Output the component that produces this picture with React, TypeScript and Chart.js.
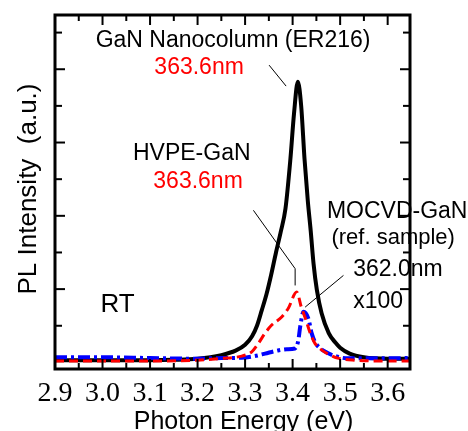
import { useEffect, useRef } from "react";
import { Chart, registerables } from "chart.js";

Chart.register(...registerables);

// ---- data ----
const nanoE = [2.90, 3.00, 3.10, 3.15, 3.20, 3.25, 3.28, 3.30, 3.315, 3.325, 3.335, 3.345, 3.355, 3.365, 3.375, 3.385, 3.395, 3.403, 3.411, 3.418, 3.425, 3.432, 3.438, 3.444, 3.451, 3.461, 3.476, 3.49, 3.50, 3.52, 3.55, 3.60, 3.65];
const nanoI = [0.03, 0.03, 0.03, 0.035, 0.05, 0.10, 0.16, 0.24, 0.36, 0.50, 0.71, 0.93, 1.20, 1.50, 1.78, 2.10, 2.75, 3.40, 3.83, 3.50, 2.78, 2.20, 1.80, 1.35, 0.99, 0.67, 0.40, 0.27, 0.20, 0.12, 0.07, 0.05, 0.05];

const hvpeE = [2.90, 3.00, 3.10, 3.20, 3.25, 3.293, 3.314, 3.328, 3.342, 3.356, 3.377, 3.391, 3.4087, 3.418, 3.428, 3.437, 3.447, 3.461, 3.479, 3.497, 3.53, 3.60, 3.65];
const hvpeI = [0.02, 0.02, 0.02, 0.03, 0.055, 0.086, 0.145, 0.26, 0.40, 0.51, 0.62, 0.74, 0.96, 0.76, 0.58, 0.40, 0.26, 0.17, 0.10, 0.055, 0.03, 0.02, 0.02];

const mocvdE = [2.90, 3.00, 3.10, 3.20, 3.25, 3.293, 3.32, 3.342, 3.367, 3.388, 3.405, 3.412, 3.416, 3.423, 3.433, 3.44, 3.447, 3.455, 3.469, 3.49, 3.518, 3.58, 3.65];
const mocvdI = [0.07, 0.07, 0.06, 0.05, 0.06, 0.063, 0.086, 0.12, 0.16, 0.18, 0.19, 0.30, 0.49, 0.69, 0.60, 0.40, 0.28, 0.21, 0.145, 0.086, 0.055, 0.055, 0.06];

const xMajorTicks = [2.9, 3.0, 3.1, 3.2, 3.3, 3.4, 3.5, 3.6];
const xMinorTicks = [2.95, 3.05, 3.15, 3.25, 3.35, 3.45, 3.55];
const yMajorTicks = [1, 2, 3, 4];
const yMinorTicks = [0.5, 1.5, 2.5, 3.5, 4.5];

const xTitle = "Photon Energy (eV)";
const yTitle = "PL Intensity  (a.u.)";

// annotation texts, anchored in data coordinates
const labels = [
  { text: "GaN Nanocolumn (ER216)", x: 3.2747, y: 4.30, color: "#000", size: 23, align: "center" },
  { text: "363.6nm", x: 3.2032, y: 3.933, color: "#ff0000", size: 23, align: "center" },
  { text: "HVPE-GaN", x: 3.1878, y: 2.758, color: "#000", size: 23, align: "center" },
  { text: "363.6nm", x: 3.201, y: 2.376, color: "#ff0000", size: 23, align: "center" },
  { text: "MOCVD-GaN", x: 3.62, y: 1.966, color: "#000", size: 23, align: "center" },
  { text: "(ref. sample)", x: 3.6116, y: 1.611, color: "#000", size: 22, align: "center" },
  { text: "362.0nm", x: 3.5274, y: 1.173, color: "#000", size: 23, align: "left" },
  { text: "x100", x: 3.5274, y: 0.746, color: "#000", size: 23, align: "left" },
  { text: "RT", x: 3.0316, y: 0.682, color: "#000", size: 26, align: "center" },
];

// leader lines, in data coordinates
const leaders = [
  [[3.3505, 4.056], [3.3863, 3.77]],
  [[3.3175, 2.075], [3.4053, 1.279], [3.4053, 1.05]],
  [[3.507, 1.187], [3.4263, 0.754]],
];

const pts = (xs: number[], ys: number[]) => xs.map((x, i) => ({ x, y: ys[i] }));

const decor = {
  id: "decor",
  afterDraw(chart: any) {
    const { ctx, chartArea: a, scales } = chart;
    const xs = scales.x;
    const ys = scales.y;
    ctx.save();
    ctx.strokeStyle = "#000";
    ctx.lineCap = "butt";
    const seg = (x1: number, y1: number, x2: number, y2: number) => {
      ctx.beginPath();
      ctx.moveTo(x1, y1);
      ctx.lineTo(x2, y2);
      ctx.stroke();
    };
    ctx.lineWidth = 2;
    for (const v of xMajorTicks) {
      const p = xs.getPixelForValue(v);
      seg(p, a.bottom, p, a.bottom - 10);
      seg(p, a.top, p, a.top + 10);
    }
    for (const v of xMinorTicks) {
      const p = xs.getPixelForValue(v);
      seg(p, a.bottom, p, a.bottom - 6);
      seg(p, a.top, p, a.top + 6);
    }
    for (const v of yMajorTicks) {
      const p = ys.getPixelForValue(v);
      seg(a.left, p, a.left + 10, p);
      seg(a.right, p, a.right - 10, p);
    }
    for (const v of yMinorTicks) {
      const p = ys.getPixelForValue(v);
      seg(a.left, p, a.left + 7, p);
      seg(a.right, p, a.right - 7, p);
    }
    ctx.lineWidth = 3;
    ctx.strokeRect(a.left, a.top, a.right - a.left, a.bottom - a.top);

    ctx.lineWidth = 1;
    for (const l of leaders) {
      ctx.beginPath();
      l.forEach(([vx, vy], i) => {
        const px = xs.getPixelForValue(vx);
        const py = ys.getPixelForValue(vy);
        if (i === 0) ctx.moveTo(px, py);
        else ctx.lineTo(px, py);
      });
      ctx.stroke();
    }

    ctx.textBaseline = "alphabetic";
    for (const t of labels) {
      ctx.font = `${t.size}px "Liberation Sans", Arial, sans-serif`;
      ctx.fillStyle = t.color;
      ctx.textAlign = t.align as CanvasTextAlign;
      ctx.fillText(t.text, xs.getPixelForValue(t.x), ys.getPixelForValue(t.y));
    }

    // axis titles
    ctx.fillStyle = "#000";
    ctx.font = `25px "Liberation Sans", Arial, sans-serif`;
    ctx.textAlign = "center";
    ctx.fillText(xTitle, (a.left + a.right) / 2 + 11, a.bottom + 60);
    ctx.save();
    ctx.translate(a.left - 19, (a.top + a.bottom) / 2 - 3);
    ctx.rotate(-Math.PI / 2);
    ctx.font = `26px "Liberation Sans", Arial, sans-serif`;
    ctx.fillText(yTitle, 0, 0);
    ctx.restore();
    ctx.restore();
  },
};

export default function App() {
  const ref = useRef<HTMLCanvasElement | null>(null);
  useEffect(() => {
    if (!ref.current) return;
    const chart = new Chart(ref.current, {
      type: "line",
      data: {
        datasets: [
          {
            label: "HVPE-GaN",
            data: pts(hvpeE, hvpeI),
            borderColor: "#ff0000",
            borderWidth: 3,
            borderDash: [9, 5],
            pointRadius: 0,
            cubicInterpolationMode: "monotone",
            order: 0,
          },
          {
            label: "MOCVD-GaN x100",
            data: pts(mocvdE, mocvdI),
            borderColor: "#0000ff",
            borderWidth: 4,
            borderDash: [12, 4, 3, 4],
            pointRadius: 0,
            cubicInterpolationMode: "monotone",
            order: 1,
          },
          {
            label: "GaN Nanocolumn (ER216)",
            data: pts(nanoE, nanoI),
            borderColor: "#000000",
            borderWidth: 4,
            pointRadius: 0,
            cubicInterpolationMode: "monotone",
            order: 2,
          },
        ],
      },
      options: {
        animation: false,
        responsive: false,
        devicePixelRatio: 1,
        layout: { padding: { top: 15, right: 58, left: 0, bottom: 0 } },
        plugins: { legend: { display: false }, tooltip: { enabled: false } },
        scales: {
          x: {
            type: "linear",
            min: 2.9,
            max: 3.647,
            grid: { display: false, drawTicks: false },
            border: { display: false },
            afterBuildTicks: (s: any) => {
              s.ticks = xMajorTicks.map((v) => ({ value: v }));
            },
            afterFit: (s: any) => {
              s.height = 62;
            },
            ticks: {
              autoSkip: false,
              maxRotation: 0,
              padding: 8,
              color: "#000",
              font: { family: '"Liberation Serif", "Times New Roman", serif', size: 28 },
              callback: (v: any) => Number(v).toFixed(1),
            },
          },
          y: {
            type: "linear",
            min: -0.09,
            max: 4.74,
            grid: { display: false, drawTicks: false },
            border: { display: false },
            ticks: { display: false },
            afterFit: (s: any) => {
              s.width = 55;
            },
          },
        },
      },
      plugins: [decor],
    });
    return () => chart.destroy();
  }, []);
  return (
    <div style={{ position: "absolute", left: 0, top: 0, width: 468, height: 431, background: "#fff" }}>
      <canvas ref={ref} width={468} height={431} style={{ display: "block" }} />
    </div>
  );
}
